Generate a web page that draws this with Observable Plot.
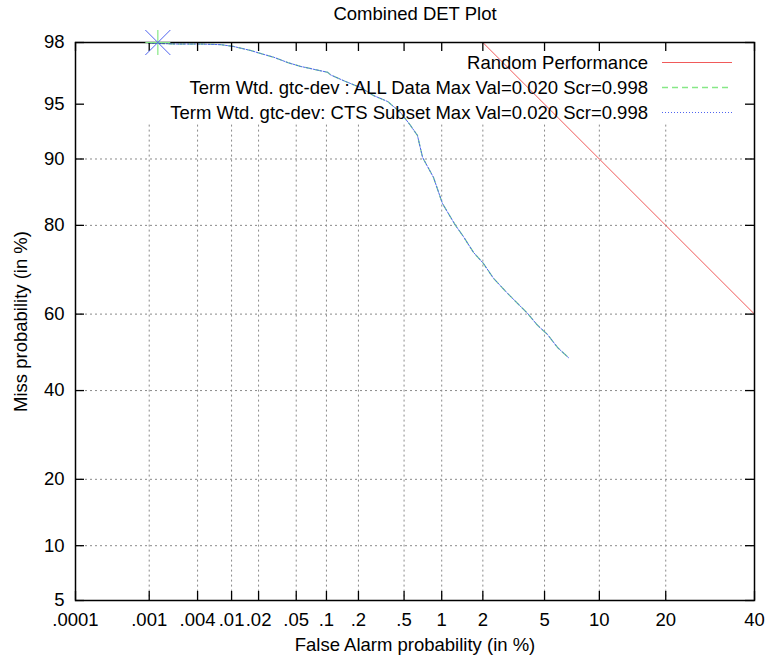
<!DOCTYPE html>
<html><head><meta charset="utf-8">
<script src="https://cdn.jsdelivr.net/npm/d3@7"></script>
<script src="https://cdn.jsdelivr.net/npm/@observablehq/plot@0.6"></script>
<style>
body{margin:0;background:#fff}
#chart svg{font-family:"Liberation Sans",Arial,sans-serif}
</style>
</head><body><div id="chart"></div><script>
// ---- data (percent) ----
const xTicks = [0.0001, 0.001, 0.004, 0.01, 0.02, 0.05, 0.1, 0.2, 0.5, 1, 2, 5, 10, 20, 40];
const xTickLabels = [".0001", ".001", ".004", ".01", ".02", ".05", ".1", ".2", ".5", "1", "2", "5", "10", "20", "40"];
const yTicks = [5, 10, 20, 40, 60, 80, 90, 95, 98];
const yTickLabels = ["5", "10", "20", "40", "60", "80", "90", "95", "98"];
const yGrid = [10, 20, 40, 60, 80, 90];
const gridTopMiss = 93.4;

const randomFa = [1, 2, 5, 10, 20, 40];
const randomMiss = [99, 98, 95, 90, 80, 60];

const detFa = [0.00098, 0.0022, 0.0043, 0.0075, 0.0105, 0.0163, 0.021, 0.029, 0.041, 0.055, 0.1025, 0.11, 0.152, 0.209, 0.274, 0.363, 0.467, 0.565, 0.644, 0.708, 0.864, 1.013, 1.27, 1.45, 1.72, 2.02, 2.37, 2.94, 3.94, 4.54, 5.21, 5.95, 6.86];
const detMiss = [97.98, 97.95, 97.95, 97.93, 97.87, 97.73, 97.62, 97.48, 97.26, 97.10, 96.83, 96.70, 96.37, 96.04, 95.56, 95.18, 94.41, 93.37, 92.47, 90.18, 87.68, 83.81, 80.0, 77.9, 74.6, 72.2, 68.8, 65.2, 60.2, 57.1, 54.7, 51.3, 48.6];
// CTS subset curve coincides with ALL data curve
const ctsFa = detFa.slice();
const ctsMiss = detMiss.slice();

const maxValFa = [0.00129];
const maxValMiss = [98.0];

const legendLabels = ["Random Performance", "Term Wtd. gtc-dev : ALL Data Max Val=0.020 Scr=0.998", "Term Wtd. gtc-dev: CTS Subset Max Val=0.020 Scr=0.998"];
const colors = {random: "#f05a5a", all: "#86e886", cts: "#5064f0"};

// ---- normal deviate ----
function probit(p){
  const a=[-3.969683028665376e+01,2.209460984245205e+02,-2.759285104469687e+02,1.383577518672690e+02,-3.066479806614716e+01,2.506628277459239e+00];
  const b=[-5.447609879822406e+01,1.615858368580409e+02,-1.556989798598866e+02,6.680131188771972e+01,-1.328068155288572e+01];
  const c=[-7.784894002430293e-03,-3.223964580411365e-01,-2.400758277161838e+00,-2.549732539343734e+00,4.374664141464968e+00,2.938163982698783e+00];
  const d=[7.784695709041462e-03,3.224671290700398e-01,2.445134137142996e+00,3.754408661907416e+00];
  const pl=0.02425, ph=1-pl; let q,r;
  if(p<pl){q=Math.sqrt(-2*Math.log(p));return (((((c[0]*q+c[1])*q+c[2])*q+c[3])*q+c[4])*q+c[5])/((((d[0]*q+d[1])*q+d[2])*q+d[3])*q+1);}
  if(p<=ph){q=p-0.5;r=q*q;return (((((a[0]*r+a[1])*r+a[2])*r+a[3])*r+a[4])*r+a[5])*q/(((((b[0]*r+b[1])*r+b[2])*r+b[3])*r+b[4])*r+1);}
  q=Math.sqrt(-2*Math.log(1-p));return -(((((c[0]*q+c[1])*q+c[2])*q+c[3])*q+c[4])*q+c[5])/((((d[0]*q+d[1])*q+d[2])*q+d[3])*q+1);
}
const nd = v => probit(v / 100);

const W = 769, H = 659, mL = 75, mR = 15, mT = 42, mB = 59;
const fw = W - mL - mR, fh = H - mT - mB, tick = 9;

const xz = xTicks.map(nd), yz = yTicks.map(nd);
const xFmt = new Map(xz.map((z, i) => [z, xTickLabels[i]]));
const yFmt = new Map(yz.map((z, i) => [z, yTickLabels[i]]));

const randomData = randomFa.map((f, i) => ({fa: f, miss: randomMiss[i]}));
const allData = detFa.map((f, i) => ({fa: f, miss: detMiss[i]}));
const ctsData = ctsFa.map((f, i) => ({fa: f, miss: ctsMiss[i]}));
const maxData = maxValFa.map((f, i) => ({fa: f, miss: maxValMiss[i]}));
const X = d => nd(d.fa), Y = d => nd(d.miss);

const plusSym = {draw(ctx, size){const h = Math.sqrt(size / Math.PI); ctx.moveTo(-h, 0); ctx.lineTo(h, 0); ctx.moveTo(0, -h); ctx.lineTo(0, h);}};
const timesSym = {draw(ctx, size){const h = Math.sqrt(size / Math.PI); ctx.moveTo(-h, -h); ctx.lineTo(h, h); ctx.moveTo(-h, h); ctx.lineTo(h, -h);}};

function legend(index, scales, values, dims){
  const g = d3.create("svg:g").attr("font-size", "18.5px").attr("fill", "#000");
  const right = dims.width - dims.marginRight;
  const styles = [
    {stroke: colors.random, dash: null},
    {stroke: colors.all, dash: "6,4"},
    {stroke: colors.cts, dash: "1,2"}
  ];
  legendLabels.forEach((lab, i) => {
    const y = dims.marginTop + 20.5 + i * 25;
    g.append("text").attr("x", right - 106).attr("y", y).attr("dy", "0.35em").attr("text-anchor", "end").text(lab);
    g.append("line").attr("x1", right - 92).attr("x2", right - 22).attr("y1", y).attr("y2", y)
      .attr("stroke", styles[i].stroke).attr("stroke-width", i === 1 ? 1.5 : 1).attr("stroke-dasharray", styles[i].dash);
  });
  return g.node();
}

const chart = Plot.plot({
  width: W, height: H, marginLeft: mL, marginRight: mR, marginTop: mT, marginBottom: mB,
  style: {fontFamily: "'Liberation Sans', Arial, sans-serif", fontSize: "18.5px", color: "#000", background: "#fff"},
  x: {domain: [xz[0], xz[xz.length - 1]], axis: null},
  y: {domain: [yz[0], yz[yz.length - 1]], axis: null},
  marks: [
    Plot.ruleX(xz.slice(1, -1), {y1: nd(gridTopMiss), y2: yz[0], stroke: "#8a8a8a", strokeDasharray: "2,3", strokeWidth: 1}),
    Plot.ruleY(yGrid.map(nd), {stroke: "#8a8a8a", strokeDasharray: "2,3", strokeWidth: 1}),
    Plot.line(randomData, {x: X, y: Y, stroke: colors.random, strokeWidth: 1, clip: true}),
    Plot.line(allData, {x: X, y: Y, stroke: colors.all, strokeWidth: 1.3, strokeDasharray: "6,4", clip: true}),
    Plot.line(ctsData, {x: X, y: Y, stroke: colors.cts, strokeWidth: 1, strokeDasharray: "2,1.5", clip: true}),
    Plot.frame({stroke: "#000", strokeWidth: 1.5}),
    Plot.ruleX(xz, {insetTop: fh - tick, stroke: "#000", strokeWidth: 1.3}),
    Plot.ruleX(xz, {insetBottom: fh - tick, stroke: "#000", strokeWidth: 1.3}),
    Plot.ruleY(yz, {insetRight: fw - tick, stroke: "#000", strokeWidth: 1.3}),
    Plot.ruleY(yz, {insetLeft: fw - tick, stroke: "#000", strokeWidth: 1.3}),
    Plot.dot(maxData, {x: X, y: Y, symbol: plusSym, r: 12.5, stroke: colors.all, strokeWidth: 1.2, fill: "none"}),
    Plot.dot(maxData, {x: X, y: Y, symbol: timesSym, r: 12.5, stroke: colors.cts, strokeWidth: 1, fill: "none"}),
    Plot.axisX(xz, {anchor: "bottom", tickSize: 0, tickPadding: 12, tickFormat: z => xFmt.get(z), label: null, fontSize: "18.5px"}),
    Plot.axisY(yz, {anchor: "left", tickSize: 0, tickPadding: 11, tickFormat: z => yFmt.get(z), label: null, fontSize: "18.5px"}),
    Plot.text(["Combined DET Plot"], {frameAnchor: "top", dy: -28, lineAnchor: "middle", textAnchor: "middle", fontSize: "18.5px"}),
    Plot.text(["False Alarm probability (in %)"], {frameAnchor: "bottom", dy: 45, lineAnchor: "middle", textAnchor: "middle", fontSize: "18.5px"}),
    Plot.text(["Miss probability (in %)"], {frameAnchor: "left", dx: -54, rotate: -90, lineAnchor: "middle", textAnchor: "middle", fontSize: "18.5px"}),
    legend
  ]
});
document.getElementById("chart").appendChild(chart);
</script></body></html>
